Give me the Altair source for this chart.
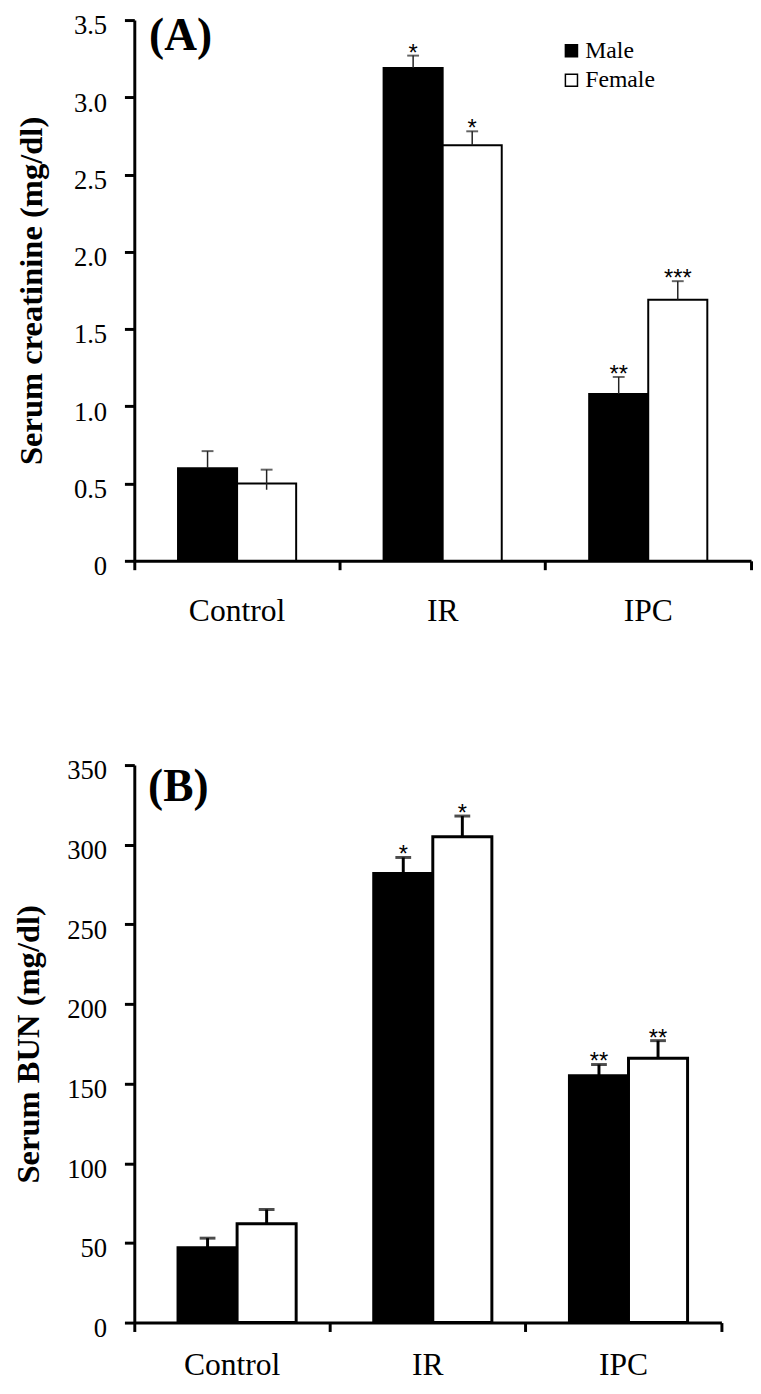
import altair as alt
import pandas as pd

categories = ["Control", "IR", "IPC"]
sexes = ["Male", "Female"]

# Panel A: serum creatinine (mg/dl)
creat_male = [0.60, 3.19, 1.08]
creat_female = [0.50, 2.69, 1.69]
creat_male_err = [0.11, 0.08, 0.11]
creat_female_err = [0.09, 0.09, 0.12]
creat_male_err_down = [0.0, 0.0, 0.0]
creat_female_err_down = [0.04, 0.0, 0.0]
creat_male_sig = ["", "*", "**"]
creat_female_sig = ["", "*", "***"]
creat_ticks = [0, 0.5, 1.0, 1.5, 2.0, 2.5, 3.0, 3.5]

# Panel B: serum BUN (mg/dl)
bun_male = [47, 282, 155]
bun_female = [62, 305, 166]
bun_male_err = [6, 10, 7]
bun_female_err = [9, 13, 11]
bun_male_err_down = [0, 0, 0]
bun_female_err_down = [0, 0, 0]
bun_male_sig = ["", "*", "**"]
bun_female_sig = ["", "*", "**"]
bun_ticks = [0, 50, 100, 150, 200, 250, 300, 350]

SERIF = "Liberation Serif"
SANS = "Liberation Sans"


def build_df(m, f, me, fe, md, fd, ms, fs):
    rows = []
    for i, c in enumerate(categories):
        for sex, v, e, d, s in (("Male", m[i], me[i], md[i], ms[i]),
                                ("Female", f[i], fe[i], fd[i], fs[i])):
            rows.append({"group": c, "sex": sex, "value": v,
                         "hi": v + e, "lo": v - d, "sig": s})
    return pd.DataFrame(rows)


def panel(df, ticks, fmt_expr, ytitle, label, label_dx, label_dy, width, height,
          bar_sw, err_sw, err_color, cap_size, cap_thick, title_pad, x_lab_pad,
          show_legend):
    xaxis = alt.Axis(title=None, labelAngle=0, labelFont=SERIF, labelFontSize=32,
                     labelColor="black", labelPadding=x_lab_pad, bandPosition=1,
                     tickExtra=True, tickSize=9, tickWidth=3, tickColor="black",
                     domainColor="black", domainWidth=3, grid=False)
    x = alt.X("group:N", sort=categories,
              scale=alt.Scale(paddingInner=0, paddingOuter=0), axis=xaxis)
    xo = alt.XOffset("sex:N", sort=sexes,
                     scale=alt.Scale(paddingInner=0, paddingOuter=0.74))
    yscale = alt.Scale(domain=[ticks[0], ticks[-1]], nice=False)
    yaxis = alt.Axis(title=ytitle, values=ticks, labelExpr=fmt_expr, grid=False,
                     labelFont=SERIF, labelFontSize=27, labelColor="black",
                     labelPadding=18, labelOffset=6, tickSize=10, tickWidth=3,
                     tickColor="black", domainColor="black", domainWidth=3,
                     titleFont=SERIF, titleFontSize=33, titleFontWeight="bold",
                     titleColor="black", titlePadding=title_pad)
    if show_legend:
        legend = alt.Legend(title=None, orient="none", legendX=431, legendY=19,
                            symbolType="square", symbolSize=150,
                            symbolStrokeColor="black", symbolStrokeWidth=1.5,
                            labelFont=SERIF, labelFontSize=24, labelColor="black",
                            labelOffset=2, rowPadding=6, padding=0)
    else:
        legend = None
    fill = alt.Fill("sex:N", sort=sexes,
                    scale=alt.Scale(domain=sexes, range=["black", "white"]),
                    legend=legend)
    base = alt.Chart(df)
    bars = base.mark_bar(stroke="black", strokeWidth=bar_sw).encode(
        x=x, xOffset=xo, y=alt.Y("value:Q", scale=yscale, axis=yaxis), fill=fill)
    err = base.mark_rule(color=err_color, strokeWidth=err_sw).encode(
        x=x, xOffset=xo, y=alt.Y("lo:Q", scale=yscale, axis=yaxis), y2="hi:Q")
    caps = base.mark_tick(color=err_color, size=cap_size, thickness=cap_thick).encode(
        x=x, xOffset=xo, y=alt.Y("hi:Q", scale=yscale, axis=yaxis))
    stars = base.mark_text(font=SANS, fontSize=24, baseline="alphabetic", dy=5,
                           color="black").encode(
        x=x, xOffset=xo, y=alt.Y("hi:Q", scale=yscale, axis=yaxis), text="sig:N")
    lab = alt.Chart(pd.DataFrame({"t": [label]})).mark_text(
        font=SERIF, fontSize=46, fontWeight="bold", align="left", baseline="top",
        color="black").encode(text="t:N", x=alt.value(label_dx), y=alt.value(label_dy))
    return alt.layer(bars, err, caps, stars, lab).properties(width=width, height=height)


df_a = build_df(creat_male, creat_female, creat_male_err, creat_female_err,
                creat_male_err_down, creat_female_err_down, creat_male_sig, creat_female_sig)
df_b = build_df(bun_male, bun_female, bun_male_err, bun_female_err,
                bun_male_err_down, bun_female_err_down, bun_male_sig, bun_female_sig)

panel_a = panel(df_a, creat_ticks, "datum.value == 0 ? '0' : format(datum.value, '.1f')",
                "Serum creatinine (mg/dl)", "(A)", 15, -6, 625, 548,
                2, 1.5, "#222222", 12, 2, 25, 26, True)
panel_b = panel(df_b, bun_ticks, "format(datum.value, 'd')",
                "Serum BUN (mg/dl)", "(B)", 14, 0, 595, 565,
                3, 3, "black", 16, 3, 22, 19, False)

PAD = {"top": -5, "bottom": -6, "left": 4, "right": 0}

chart = alt.vconcat(panel_a, panel_b, spacing=133).resolve_scale(
    fill="independent").properties(padding=PAD).configure(
    padding=PAD).configure_view(stroke=None)

chart.save("out.html", embed_options={"renderer": "svg", "actions": False})
